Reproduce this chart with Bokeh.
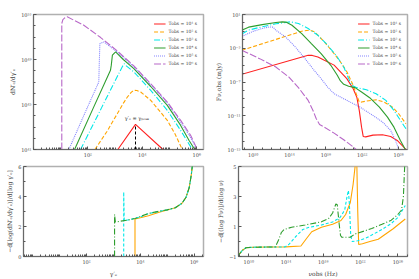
import numpy as np
from bokeh.plotting import figure
from bokeh.layouts import column, row
from bokeh.models import FixedTicker, CustomJSTickFormatter, Label, Range1d
from bokeh.embed import file_html
from bokeh.resources import INLINE

FONT = "DejaVu Serif"

# ---------------- legend / series styling ----------------
series_names = ["Tobs = 10¹ s", "Tobs = 10² s", "Tobs = 10³ s",
                "Tobs = 10⁴ s", "Tobs = 10⁵ s", "Tobs = 10⁶ s"]
colors = ["#ff2020", "#ffa500", "#00e8e8", "#2e9e2e", "#8080ff", "#b868c8"]
dashes = ["solid", "4 2", "6 2 1 2", "solid", "1 1", "7 2"]

# ---------------- top-left: dN/dgamma (log10 values) ----------------
tl_red_lg = [3.10, 3.75, 4.76]
tl_red_lN = [41.0, 43.23, 41.0]
tl_orange_lg = [2.26, 2.70, 3.08, 3.30, 3.45, 3.60, 3.69, 3.80, 3.94, 4.31, 4.92, 5.20, 5.47]
tl_orange_lN = [41.0, 42.6, 44.18, 45.1, 45.66, 46.1, 46.26, 46.25, 46.11, 45.37, 43.59, 42.4, 41.0]
tl_cyan_lg = [1.73, 2.50, 3.00, 3.26, 3.30, 3.33, 3.40, 3.69, 4.31, 4.92, 5.41, 5.84]
tl_cyan_lN = [41.0, 44.7, 47.1, 48.34, 48.5, 48.63, 48.45, 47.9, 46.26, 44.48, 42.7, 41.0]
tl_green_lg = [1.51, 2.20, 2.83, 2.86, 2.90, 3.02, 3.30, 3.69, 4.31, 4.92, 5.41, 5.72, 5.93]
tl_green_lN = [41.0, 44.7, 48.04, 48.5, 49.38, 49.67, 49.0, 48.19, 46.6, 44.92, 43.14, 41.8, 41.0]
tl_blue_lg = [1.30, 1.90, 2.40, 2.42, 2.44, 2.59, 3.08, 3.69, 4.31, 4.92, 5.41, 5.78, 6.00]
tl_blue_lN = [41.0, 44.3, 47.0, 48.8, 50.42, 50.56, 49.67, 48.34, 46.76, 45.13, 43.44, 42.04, 41.0]
tl_purple_lg = [1.04, 1.04, 1.08, 1.15, 1.24, 1.85, 2.47, 3.08, 3.69, 4.31, 4.92, 5.41, 5.78, 6.02]
tl_purple_lN = [41.0, 52.2, 52.55, 52.7, 52.79, 52.05, 50.95, 49.76, 48.43, 46.85, 45.22, 43.59, 42.25, 41.0]
peak_lg = [3.75, 3.75]
peak_lN = [41.0, 43.23]

# ---------------- top-right: F_nu (log10 values) ----------------
tr_red_lv = [8.75, 16.05, 16.50, 17.12, 17.83, 18.90, 19.60, 20.30, 21.00, 21.40, 21.67, 21.92, 22.10,
             22.38, 23.17, 24.23, 25.12, 25.84, 26.37, 26.80]
tr_red_lF = [-6.09, -3.83, -3.85, -4.03, -4.43, -5.0, -5.8, -6.6, -7.8, -8.8, -10.4, -12.35, -13.45,
             -13.5, -13.3, -13.26, -13.46, -13.93, -14.5, -15.0]
tr_orange_lv = [8.75, 15.34, 16.23, 16.76, 17.83, 18.90, 19.60, 20.32, 21.00, 21.39, 21.67, 21.92,
                22.45, 23.52, 24.41, 25.30, 26.00, 26.80]
tr_orange_lF = [-3.24, -0.98, -0.86, -1.06, -2.25, -3.63, -4.62, -5.81, -7.4, -8.58, -9.38, -9.38,
                -9.26, -9.1, -9.38, -9.97, -10.76, -11.95]
tr_cyan_lv = [8.75, 9.50, 11.0, 12.5, 14.1, 14.98, 16.05, 17.12, 18.19, 19.25, 19.96, 20.50, 20.85,
              21.39, 22.45, 23.52, 24.59, 25.48, 26.19, 26.80]
tr_cyan_lF = [-1.3, -0.85, -0.45, -0.1, 0.13, -0.07, -0.66, -1.46, -2.64, -4.03, -5.22, -6.6, -7.4,
              -7.67, -7.91, -8.39, -9.18, -10.37, -11.55, -12.54]
tr_green_lv = [8.75, 9.50, 11.0, 12.5, 13.2, 13.6, 14.27, 15.34, 16.40, 17.47, 18.54, 19.25, 19.60,
               19.96, 20.50, 21.20, 21.92, 22.81, 23.88, 24.77, 25.48, 26.19, 26.73]
tr_green_lF = [-0.86, -0.5, -0.2, 0.05, 0.13, 0.1, -0.27, -1.26, -2.45, -3.63, -5.02, -6.2, -6.88,
               -7.28, -7.51, -7.67, -8.19, -8.86, -9.97, -11.16, -12.35, -13.93, -15.0]
tr_blue_lv = [8.75, 10.0, 11.0, 11.8, 12.2, 12.49, 13.56, 14.63, 15.70, 16.76, 17.47, 18.19, 18.90,
              19.60, 20.67, 21.74, 23.17, 24.23, 25.12, 25.66, 26.00]
tr_blue_lF = [-1.6, -1.0, -0.65, -0.47, -0.5, -0.86, -1.65, -2.84, -4.23, -5.69, -6.6, -7.6, -8.39,
              -8.78, -9.38, -9.97, -10.96, -11.75, -12.74, -13.93, -15.0]
tr_purple_lv = [8.75, 10.71, 12.49, 13.91, 14.98, 16.05, 16.58, 16.94, 17.30, 17.83, 18.90, 19.96,
                21.03, 21.32]
tr_purple_lF = [-3.24, -4.23, -5.22, -6.4, -7.67, -9.18, -10.37, -11.36, -12.03, -12.35, -13.06,
                -13.85, -14.72, -15.0]

# ---------------- bottom-left: spectral slope of electrons ----------------
bl_orange_lg = [3.80, 3.80, 4.00, 4.30, 4.70, 5.00, 5.30, 5.55, 5.70, 5.82, 5.90, 5.95]
bl_orange_s = [0.0, 2.50, 2.58, 2.72, 2.95, 3.10, 3.25, 3.55, 3.95, 4.6, 5.5, 6.3]
bl_cyan_lg = [3.38, 3.38, 3.40, 3.60, 4.00, 4.30, 4.70, 5.00, 5.30, 5.55, 5.70, 5.82, 5.90, 5.95]
bl_cyan_s = [0.0, 4.30, 2.40, 2.46, 2.64, 2.86, 3.01, 3.11, 3.25, 3.55, 3.95, 4.6, 5.5, 6.3]
bl_green_lg = [3.04, 3.04, 3.07, 3.50, 3.80, 4.30, 4.70, 5.00, 5.30, 5.55, 5.70, 5.82, 5.90, 5.95]
bl_green_s = [0.0, 2.80, 2.30, 2.42, 2.53, 2.87, 3.02, 3.11, 3.25, 3.55, 3.95, 4.6, 5.5, 6.3]

# ---------------- bottom-right: spectral slope of flux ----------------
br_orange_lv = [8.80, 9.30, 9.70, 10.5, 12.0, 14.0, 15.6, 16.2, 16.76, 17.8, 19.0, 19.9, 20.4, 20.9,
                21.2, 21.45, 21.6, 21.7, 21.8, 22.2, 23.0, 23.9, 24.7, 25.5, 26.8]
br_orange_s = [-1.0, -0.6, -0.42, -0.38, -0.37, -0.36, -0.3, 0.2, 0.65, 0.95, 1.15, 1.4, 1.8, 2.6,
               3.8, 5.2, 5.2, 2.0, -0.2, -0.15, 0.0, 0.15, 0.5, 0.85, 1.5]
br_cyan_lv = [8.80, 9.30, 9.70, 10.5, 12.0, 13.9, 14.3, 15.0, 15.8, 16.5, 17.8, 19.0, 19.8, 20.3,
              20.55, 20.7, 20.8, 20.95, 21.1, 21.7, 22.5, 23.2, 24.3, 25.3, 26.0, 26.8]
br_cyan_s = [-1.0, -0.6, -0.42, -0.38, -0.37, -0.36, -0.2, 0.3, 0.8, 0.95, 1.1, 1.3, 1.6, 2.1,
             3.0, 3.4, 2.5, 0.4, 0.0, 0.05, 0.2, 0.43, 0.8, 1.2, 1.6, 2.4]
br_green_lv = [8.80, 9.30, 9.70, 10.5, 12.0, 12.85, 13.2, 13.5, 13.8, 14.6, 16.05, 17.8, 18.6, 19.0,
               19.35, 19.5, 19.7, 19.85, 20.0, 20.9, 21.4, 22.4, 23.2, 24.3, 25.3, 26.0, 26.4, 26.6, 26.75]
br_green_s = [-1.0, -0.6, -0.42, -0.38, -0.37, -0.36, 0.1, 0.6, 0.8, 0.95, 1.1, 1.31, 1.55, 1.9,
              2.5, 2.45, 1.2, 0.4, 0.28, 0.28, 0.5, 0.7, 0.87, 1.15, 1.42, 1.8, 2.1, 3.0, 5.2]

# ---------------- axis ticks / labels ----------------
tl_xticks = [1e2, 1e4, 1e6]
tl_xlabels = ["10²", "10⁴", "10⁶"]
tl_yticks = [1e41, 1e45, 1e49, 1e53]
tl_ylabels = ["10⁴¹", "10⁴⁵", "10⁴⁹", "10⁵³"]
tr_xticks = [1e10, 1e14, 1e18, 1e22, 1e26]
tr_xlabels = ["10¹⁰", "10¹⁴", "10¹⁸", "10²²", "10²⁶"]
tr_yticks = [1e-15, 1e-11, 1e-7, 1e-3, 1e1]
tr_ylabels = ["10⁻¹⁵", "10⁻¹¹", "10⁻⁷", "10⁻³", "10¹"]
bl_yticks = [0, 2, 4, 6]
bl_ylabels = ["0", "2", "4", "6"]
br_yticks = [-1, 1, 3, 5]
br_ylabels = ["−1", "1", "3", "5"]

TICK_FS = "5px"
LAB_FS = "6px"

FMT_JS = """
let best = 0, bd = Infinity;
for (let i = 0; i < tv.length; i++) {
  const a = islog ? Math.log10(tv[i]) : tv[i];
  const b = islog ? Math.log10(tick) : tick;
  const d = Math.abs(a - b);
  if (d < bd) { bd = d; best = i; }
}
return lb[best];
"""


def fmt(tv, lb, islog):
    return CustomJSTickFormatter(args=dict(tv=tv, lb=lb, islog=islog), code=FMT_JS)


def log_minor(lo, hi, sub):
    out = []
    for e in range(lo, hi + 1):
        if sub:
            out += [m * 10.0 ** e for m in range(1, 10)]
        else:
            out.append(10.0 ** e)
    return out


def style_axis(ax, label):
    ax.axis_label = label
    ax.axis_label_text_font = FONT
    ax.axis_label_text_font_size = LAB_FS
    ax.axis_label_text_font_style = "normal"
    ax.axis_label_standoff = 2
    ax.major_label_text_font = FONT
    ax.major_label_text_font_size = TICK_FS
    ax.major_label_standoff = 2
    ax.major_tick_in = 3
    ax.major_tick_out = 0
    ax.minor_tick_in = 2
    ax.minor_tick_out = 0
    ax.axis_line_color = "#555555"
    ax.major_tick_line_color = "#555555"
    ax.minor_tick_line_color = "#555555"
    ax.axis_line_width = 0.8


def make_fig(w, h, xr, yr, xlog, ylog, mb):
    p = figure(width=w, height=h,
               x_axis_type="log" if xlog else "linear",
               y_axis_type="log" if ylog else "linear",
               x_range=Range1d(*xr), y_range=Range1d(*yr),
               output_backend="svg", toolbar_location=None,
               min_border_left=mb[0], min_border_right=mb[1],
               min_border_top=mb[2], min_border_bottom=mb[3])
    p.grid.visible = False
    p.outline_line_color = "#b0b0b0"
    p.outline_line_width = 1.5
    p.background_fill_color = "white"
    return p


def L(a):
    return [10.0 ** v for v in a]


# ================= top-left =================
p1 = make_fig(212, 161, (10 ** 0.0, 10 ** 6.25), (1e41, 1e53), True, True, (33, 9, 14, 12))
tl_data = [(tl_red_lg, tl_red_lN), (tl_orange_lg, tl_orange_lN), (tl_cyan_lg, tl_cyan_lN),
           (tl_green_lg, tl_green_lN), (tl_blue_lg, tl_blue_lN), (tl_purple_lg, tl_purple_lN)]
for (xs, ys), c, d, n in zip(tl_data, colors, dashes, series_names):
    p1.line(L(xs), L(ys), color=c, line_dash=d, line_width=1.1, legend_label=n)
p1.line(L(peak_lg), L(peak_lN), color="black", line_dash="3 2", line_width=1)
p1.add_layout(Label(x=10 ** 3.80, y=10 ** 43.55, text="γ′ₑ = γₚₑₐₖ", text_align="center",
                    text_font=FONT, text_font_size="5px", text_color="#222222"))
style_axis(p1.xaxis[0], "")
style_axis(p1.yaxis[0], "dN′ₑ/dγ′ₑ")
p1.xaxis[0].ticker = FixedTicker(ticks=tl_xticks, minor_ticks=log_minor(0, 6, True))
p1.xaxis[0].formatter = fmt(tl_xticks, tl_xlabels, True)
p1.yaxis[0].ticker = FixedTicker(ticks=tl_yticks, minor_ticks=log_minor(41, 53, False))
p1.yaxis[0].formatter = fmt(tl_yticks, tl_ylabels, True)

# ================= top-right =================
p2 = make_fig(207, 161, (10 ** 8.83, 10 ** 26.97), (1e-15, 1e1), True, True, (25, 12, 14, 12))
tr_data = [(tr_red_lv, tr_red_lF), (tr_orange_lv, tr_orange_lF), (tr_cyan_lv, tr_cyan_lF),
           (tr_green_lv, tr_green_lF), (tr_blue_lv, tr_blue_lF), (tr_purple_lv, tr_purple_lF)]
for (xs, ys), c, d, n in zip(tr_data, colors, dashes, series_names):
    p2.line(L(xs), L(ys), color=c, line_dash=d, line_width=1.1, legend_label=n)
style_axis(p2.xaxis[0], "")
style_axis(p2.yaxis[0], "Fν,obs (mJy)")
p2.xaxis[0].ticker = FixedTicker(ticks=tr_xticks, minor_ticks=log_minor(9, 27, False))
p2.xaxis[0].formatter = fmt(tr_xticks, tr_xlabels, True)
p2.yaxis[0].ticker = FixedTicker(ticks=tr_yticks, minor_ticks=log_minor(-15, 1, False))
p2.yaxis[0].formatter = fmt(tr_yticks, tr_ylabels, True)

for p in (p1, p2):
    lg = p.legend[0]
    lg.location = "top_right"
    lg.label_text_font = FONT
    lg.label_text_font_size = "4.5px"
    lg.label_height = 7
    lg.glyph_height = 7
    lg.glyph_width = 12
    lg.spacing = 1
    lg.padding = 2
    lg.margin = 4
    lg.label_standoff = 3
    lg.border_line_alpha = 0
    lg.background_fill_alpha = 0

# ================= bottom-left =================
p3 = make_fig(212, 118, (10 ** -0.35, 10 ** 6.35), (0, 6), True, False, (23, 9, 5, 22))
bl_data = [(bl_orange_lg, bl_orange_s, colors[1], "solid"),
           (bl_cyan_lg, bl_cyan_s, colors[2], "3 2"),
           (bl_green_lg, bl_green_s, colors[3], "6 2 1 2")]
for xs, ys, c, d in bl_data:
    p3.line(L(xs), ys, color=c, line_dash=d, line_width=1.1)
style_axis(p3.xaxis[0], "γ′ₑ")
style_axis(p3.yaxis[0], "−d[log(dN′ₑ/dγ′ₑ)]/d[log γ′ₑ]")
p3.xaxis[0].ticker = FixedTicker(ticks=tl_xticks, minor_ticks=log_minor(-1, 6, True))
p3.xaxis[0].formatter = fmt(tl_xticks, tl_xlabels, True)
p3.yaxis[0].ticker = FixedTicker(ticks=bl_yticks, minor_ticks=[1, 3, 5])
p3.yaxis[0].formatter = fmt(bl_yticks, bl_ylabels, False)

# ================= bottom-right =================
p4 = make_fig(207, 118, (10 ** 8.9, 10 ** 27.04), (-1, 5), True, False, (26, 12, 5, 22))
br_data = [(br_orange_lv, br_orange_s, colors[1], "solid"),
           (br_cyan_lv, br_cyan_s, colors[2], "3 2"),
           (br_green_lv, br_green_s, colors[3], "6 2 1 2")]
for xs, ys, c, d in br_data:
    p4.line(L(xs), ys, color=c, line_dash=d, line_width=1.1)
style_axis(p4.xaxis[0], "νobs (Hz)")
style_axis(p4.yaxis[0], "−d[(log Fν)]/d(log ν)")
p4.xaxis[0].ticker = FixedTicker(ticks=tr_xticks, minor_ticks=log_minor(9, 27, False))
p4.xaxis[0].formatter = fmt(tr_xticks, tr_xlabels, True)
p4.yaxis[0].ticker = FixedTicker(ticks=br_yticks, minor_ticks=[0, 2, 4])
p4.yaxis[0].formatter = fmt(br_yticks, br_ylabels, False)

layout = column(row(p1, p2), row(p3, p4))
open("out.html", "w").write(file_html(layout, INLINE))
